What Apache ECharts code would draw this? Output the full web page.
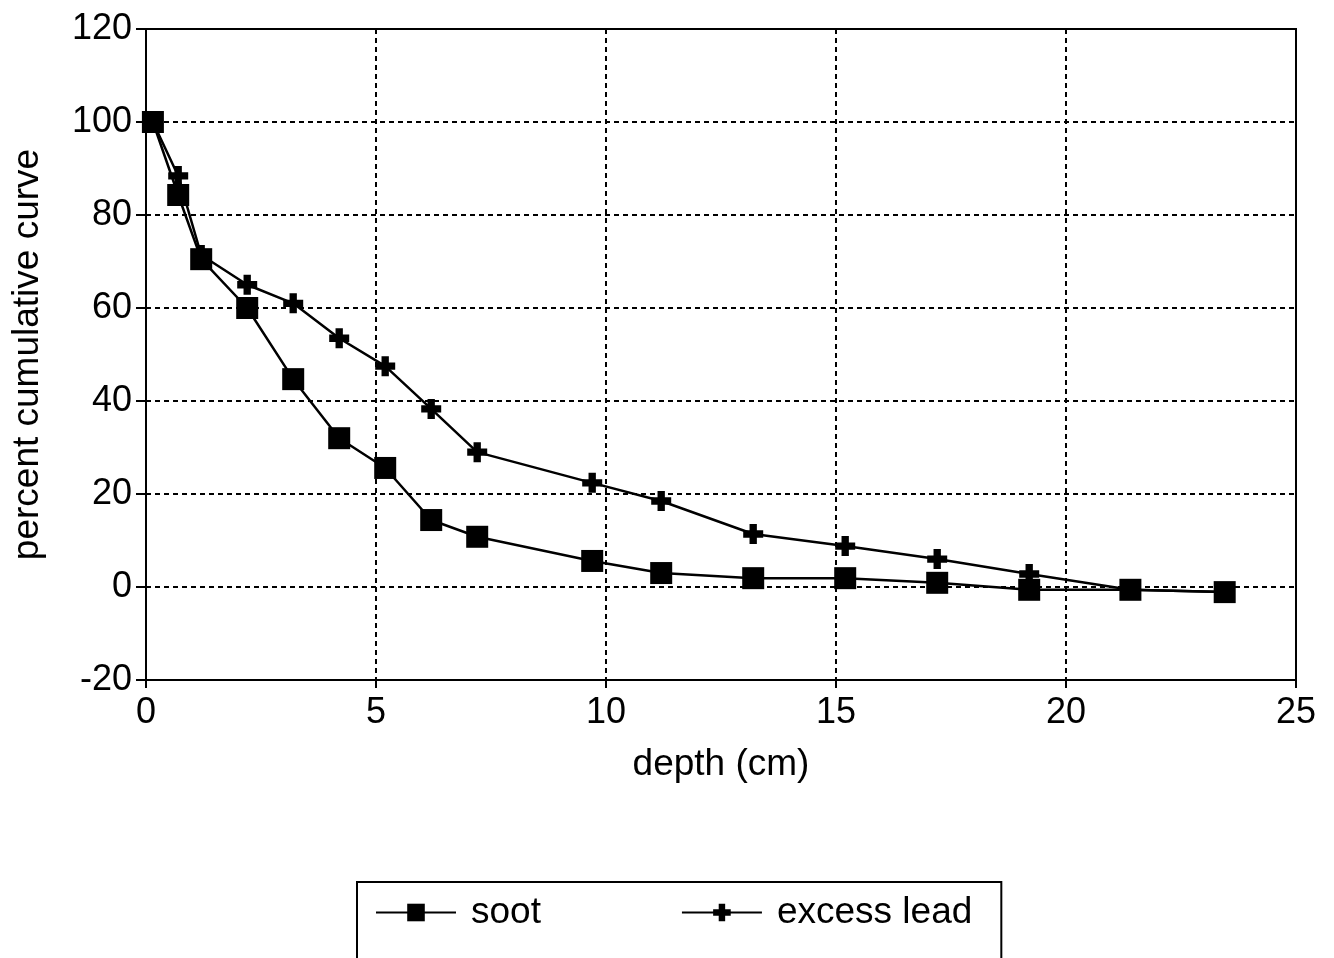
<!DOCTYPE html>
<html>
<head>
<meta charset="utf-8">
<script src="https://cdn.jsdelivr.net/npm/echarts@6/dist/echarts.min.js"></script>
<style>html,body{margin:0;padding:0;background:#fff}#c{width:1334px;height:958px}</style>
</head>
<body>
<div id="c"></div>
<script>
const depthSoot = [0.15,0.7,1.2,2.2,3.2,4.2,5.2,6.2,7.2,9.7,11.2,13.2,15.2,17.2,19.2,21.4,23.45];
const soot      = [100,84.3,70.5,60,44.7,32,25.6,14.4,10.8,5.6,3.0,1.9,1.9,0.9,-0.6,-0.6,-1.1];
const depthLead = [0.15,0.7,1.2,2.2,3.2,4.2,5.2,6.2,7.2,9.7,11.2,13.2,15.2,17.2,19.2,21.4,23.45];
const lead      = [100,88.4,71.4,65,61,53.5,47.5,38.3,29,22.4,18.5,11.4,8.8,6.0,2.8,-0.6,-1.1];
const seriesNames = ['soot','excess lead'];

const chart = echarts.init(document.getElementById('c'));
const font = 'Liberation Sans, Arial, sans-serif';
const plus = 'path://M-1.1,-3 L1.1,-3 L1.1,-1.1 L3,-1.1 L3,1.1 L1.1,1.1 L1.1,3 L-1.1,3 L-1.1,1.1 L-3,1.1 L-3,-1.1 L-1.1,-1.1 Z';
chart.setOption({
  animation:false,
  backgroundColor:'#fff',
  textStyle:{fontFamily:font,color:'#000'},
  grid:{left:146,right:38,top:29,bottom:278,show:true,borderColor:'#000',borderWidth:2,backgroundColor:'transparent'},
  xAxis:{type:'value',min:0,max:25,interval:5,
    name:'depth (cm)',nameLocation:'middle',nameGap:66,
    nameTextStyle:{fontSize:37,color:'#000',fontFamily:font},
    axisLine:{show:true,onZero:false,lineStyle:{color:'#000',width:2}},
    axisTick:{show:true,inside:false,length:8,lineStyle:{color:'#000',width:2}},
    axisLabel:{fontSize:36,color:'#000',margin:15,fontFamily:font,lineHeight:36},
    splitLine:{show:true,lineStyle:{color:'#000',type:[5,4],width:2}}},
  yAxis:{type:'value',min:-20,max:120,interval:20,
    name:'percent cumulative curve',nameLocation:'middle',nameGap:100,
    nameTextStyle:{fontSize:37,color:'#000',fontFamily:font},
    axisLine:{show:true,onZero:false,lineStyle:{color:'#000',width:2}},
    axisTick:{show:true,inside:false,length:10,lineStyle:{color:'#000',width:2}},
    axisLabel:{fontSize:36,color:'#000',margin:14,fontFamily:font},
    splitLine:{show:true,lineStyle:{color:'#000',type:[5,4],width:2}}},
  legend:{left:357,top:882,orient:'horizontal',itemGap:140,itemWidth:80,itemHeight:22,
    padding:[12,29,30,18],borderColor:'#000',borderWidth:2,
    textStyle:{fontSize:37,color:'#000',fontFamily:font,padding:[0,0,0,10]},
    data:seriesNames},
  series:[
    {name:seriesNames[0],type:'line',data:depthSoot.map((d,i)=>[d,soot[i]]),
     symbol:'rect',symbolSize:22,itemStyle:{color:'#000'},lineStyle:{color:'#000',width:2.5}},
    {name:seriesNames[1],type:'line',data:depthLead.map((d,i)=>[d,lead[i]]),
     symbol:plus,symbolSize:20,itemStyle:{color:'#000'},lineStyle:{color:'#000',width:2.5}}
  ]
});
</script>
</body>
</html>
